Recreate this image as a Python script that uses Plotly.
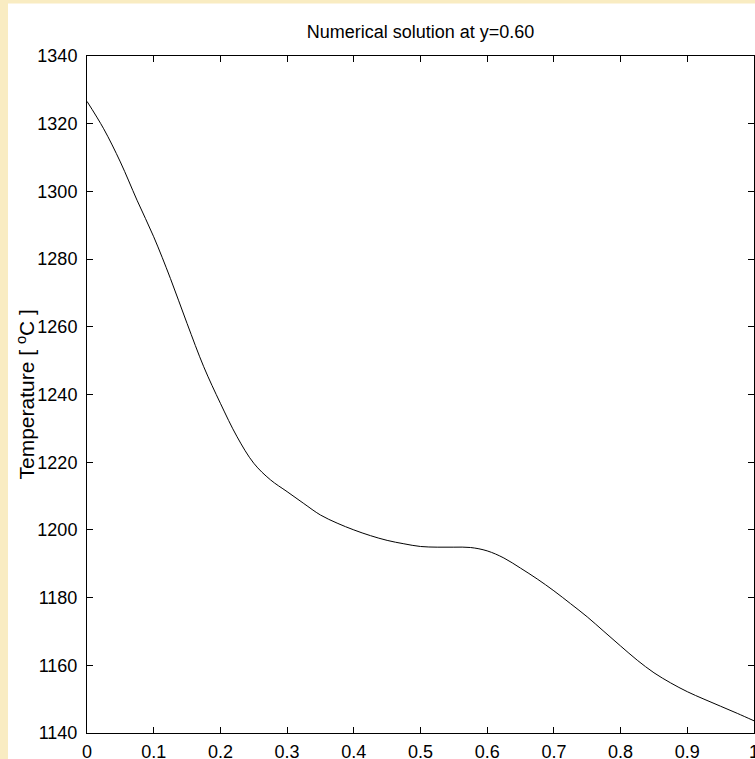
import plotly.graph_objects as go

x_pos = [0.0, 0.025, 0.05, 0.075, 0.1, 0.125, 0.15, 0.175, 0.2, 0.225, 0.25, 0.275,
         0.3, 0.325, 0.35, 0.375, 0.4, 0.425, 0.45, 0.475, 0.5, 0.525, 0.55, 0.575,
         0.6, 0.625, 0.65, 0.675, 0.7, 0.725, 0.75, 0.775, 0.8, 0.825, 0.85, 0.875,
         0.9, 0.925, 0.95, 0.975, 1.0]
temperature = [1326.6, 1318.5, 1308.7, 1297.4, 1286.6, 1274.3, 1261.0, 1248.2, 1237.4,
               1227.5, 1219.7, 1214.8, 1211.3, 1207.8, 1204.4, 1202.0, 1200.0, 1198.3,
               1196.9, 1195.9, 1195.1, 1194.9, 1194.9, 1194.8, 1193.8, 1191.7, 1188.7,
               1185.5, 1182.0, 1178.2, 1174.3, 1170.0, 1165.7, 1161.5, 1157.8, 1154.8,
               1152.2, 1150.0, 1147.9, 1145.8, 1143.6]

x_ticks = [0, 0.1, 0.2, 0.3, 0.4, 0.5, 0.6, 0.7, 0.8, 0.9, 1]
x_tick_labels = ["0", "0.1", "0.2", "0.3", "0.4", "0.5", "0.6", "0.7", "0.8", "0.9", "1"]
y_ticks = [1140, 1160, 1180, 1200, 1220, 1240, 1260, 1280, 1300, 1320, 1340]

title_text = "Numerical solution at y=0.60"
ylabel_text = "Temperature [ <sup>o</sup>C ]"

W, H = 755, 759
L, R, T, B = 87, 1, 56, 26
PW, PH = W - L - R, H - T - B

def px_x(p):
    return (p - L) / PW

def px_y(p):
    return (H - B - p) / PH

BEIGE = "#F9ECC2"
tick_font = dict(family="Liberation Sans, Arial", size=18, color="black")

fig = go.Figure()
fig.add_trace(go.Scatter(x=x_pos, y=temperature, mode="lines",
                         line=dict(color="black", width=1, shape="spline", smoothing=1.0),
                         showlegend=False, hoverinfo="skip"))

axis_common = dict(showline=True, linecolor="black", linewidth=1, mirror="ticks",
                   ticks="inside", ticklen=6, tickcolor="black", tickwidth=1,
                   showgrid=False, zeroline=False, tickfont=tick_font,
                   ticklabeloverflow="allow", automargin=False)

fig.update_xaxes(range=[0, 1], tickvals=x_ticks, ticktext=x_tick_labels,
                 ticklabelstandoff=2, **axis_common)
fig.update_yaxes(range=[1140, 1340], tickvals=y_ticks, ticklabelstandoff=5, **axis_common)

fig.update_layout(
    width=W, height=H,
    margin=dict(l=L, r=R, t=T, b=B, pad=0),
    paper_bgcolor="white", plot_bgcolor="white",
    title=dict(text=title_text, x=420.5 / W, xanchor="center",
               y=1 - 31.7 / H, yanchor="middle",
               font=dict(family="Liberation Sans, Arial", size=18, color="black")),
    shapes=[
        dict(type="rect", xref="paper", yref="paper", layer="above", line=dict(width=0),
             fillcolor=BEIGE, x0=px_x(-5), x1=px_x(8), y0=px_y(H + 5), y1=px_y(-5)),
        dict(type="rect", xref="paper", yref="paper", layer="above", line=dict(width=0),
             fillcolor=BEIGE, x0=px_x(-5), x1=px_x(W + 5), y0=px_y(3.5), y1=px_y(-5)),
    ],
    annotations=[
        dict(text=ylabel_text, xref="paper", yref="paper", x=px_x(25), y=0.5,
             xanchor="center", yanchor="middle", textangle=-90, showarrow=False,
             font=dict(family="Liberation Sans, Arial", size=21, color="black")),
    ],
)

fig.write_html("out.html")
